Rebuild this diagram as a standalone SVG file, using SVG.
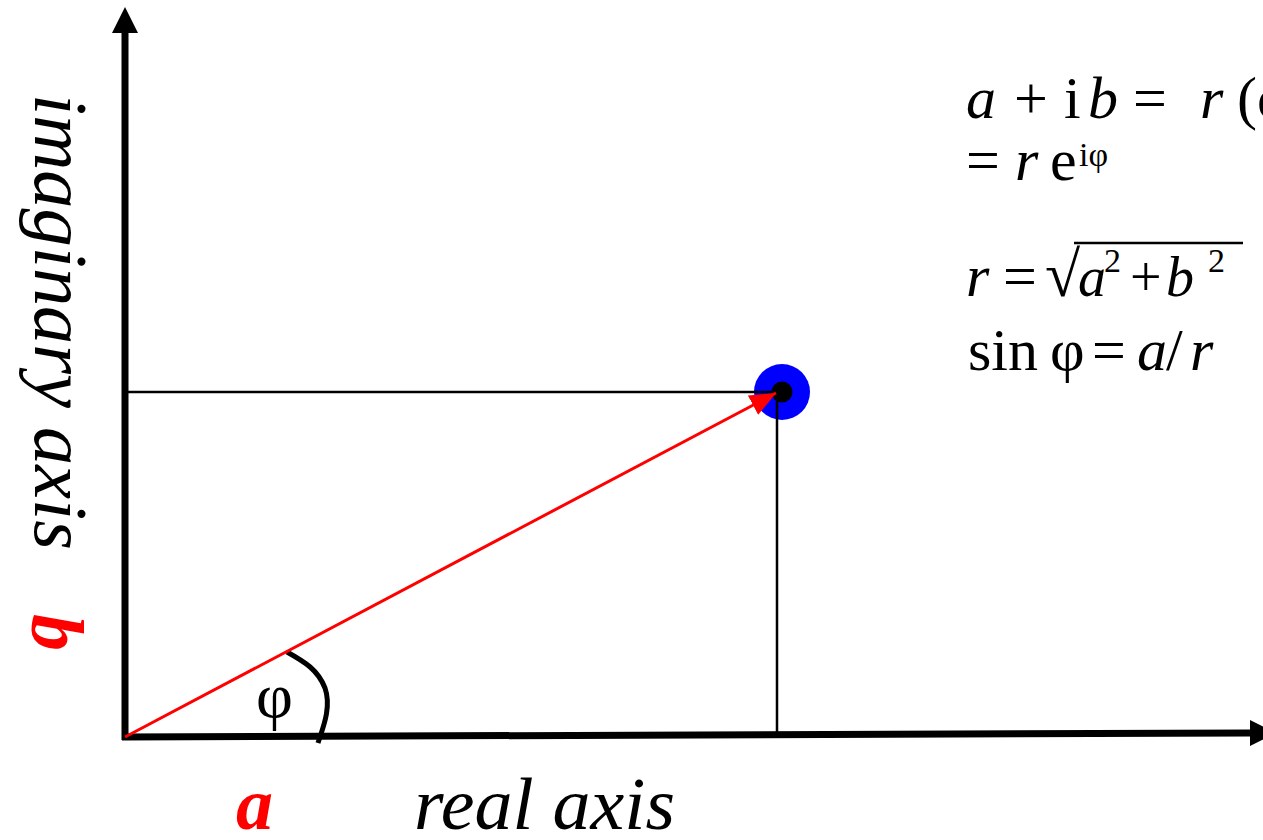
<svg xmlns="http://www.w3.org/2000/svg" width="1263" height="840" viewBox="0 0 1263 840">
<style>
text{font-family:"Liberation Serif","Times New Roman",serif;fill:#000}
.it{font-style:italic}
.red{fill:#ff0000;font-weight:bold;font-style:italic}
.axis{stroke:#000;stroke-width:7;fill:none}
.thin{stroke:#000;stroke-width:2.5;fill:none}
</style>
<defs>
<marker id="axhead" markerUnits="userSpaceOnUse" markerWidth="26" markerHeight="26" refX="0" refY="13" orient="auto" viewBox="0 0 26 26">
<polygon points="0,0 26,13 0,26" fill="#000"/>
</marker>
<marker id="redhead" markerUnits="userSpaceOnUse" markerWidth="26" markerHeight="22" refX="26" refY="11" orient="auto" viewBox="0 0 26 22">
<polygon points="0,0 26,11 0,22" fill="#ff0000"/>
</marker>
</defs>
<g id="point">
<circle cx="782" cy="392" r="28" fill="#0000ff"/>
</g>
<g id="connectors">
<line class="axis" x1="125" y1="740" x2="125" y2="33" marker-end="url(#axhead)"/>
<line class="axis" x1="122" y1="737" x2="1250" y2="733" marker-end="url(#axhead)"/>
<line class="thin" x1="125" y1="392" x2="782" y2="392"/>
<line class="thin" x1="777" y1="392" x2="777" y2="735"/>
<path d="M287,652 C305,662 318,670 325,688 C332,708 322,730 318,743" stroke="#000" stroke-width="5" fill="none"/>
</g>
<g id="point-dot">
<circle cx="782" cy="392" r="10.5" fill="#000"/>
</g>
<g id="vector">
<line x1="125" y1="737" x2="776" y2="393" stroke="#ff0000" stroke-width="3" marker-end="url(#redhead)"/>
</g>
<g id="labels">
<text x="256" y="717" font-size="64">φ</text>
<text class="red" x="236" y="829" font-size="74">a</text>
<text class="it" x="414" y="829" font-size="74" textLength="261" lengthAdjust="spacingAndGlyphs">real axis</text>
<text class="it" font-size="76" transform="translate(35,94) rotate(90)" textLength="456" lengthAdjust="spacingAndGlyphs">imaginary axis</text>
<text class="red" font-size="74" transform="translate(32,614) rotate(90)">b</text>
</g>
<g id="formulas">
<text font-size="60" y="118" xml:space="preserve"><tspan class="it" x="966">a</tspan><tspan x="1014">+</tspan><tspan x="1064">i</tspan><tspan class="it" x="1088">b</tspan><tspan x="1133">=</tspan><tspan class="it" x="1200">r</tspan><tspan x="1237">(cos φ + i sin φ)</tspan></text>
<text font-size="60" y="180"><tspan x="966">=</tspan><tspan class="it" x="1015">r</tspan><tspan x="1050">e</tspan><tspan x="1079" dy="-14" font-size="34">iφ</tspan></text>
<text font-size="60" y="296"><tspan class="it" x="966">r</tspan><tspan x="1003">=</tspan><tspan x="1045" font-size="64">√</tspan></text>
<text font-size="56" y="296"><tspan class="it" x="1078">a</tspan><tspan x="1104" dy="-24" font-size="34">2</tspan><tspan x="1130" dy="24">+</tspan><tspan class="it" x="1166">b</tspan><tspan x="1208" dy="-24" font-size="34">2</tspan></text>
<line x1="1074" y1="243" x2="1243" y2="243" stroke="#000" stroke-width="2.5"/>
<text font-size="60" y="370"><tspan x="968">sin</tspan><tspan x="1050">φ</tspan><tspan x="1092">=</tspan><tspan class="it" x="1137">a</tspan><tspan x="1166">/</tspan><tspan class="it" x="1190">r</tspan></text>
</g>
</svg>
